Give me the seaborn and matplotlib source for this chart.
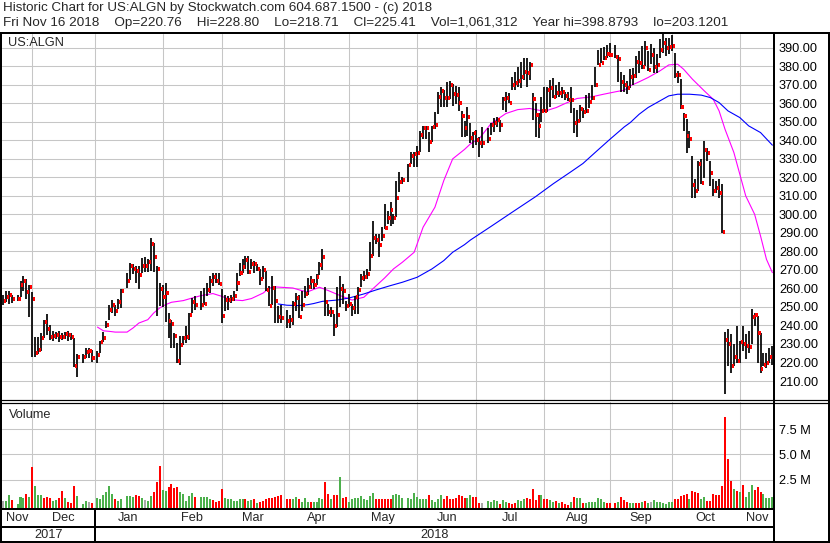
import numpy as np
import pandas as pd
import matplotlib
matplotlib.use("Agg")
from matplotlib import pyplot as plt
import seaborn as sns

# ---- data --------------------------------------------------------------
first_day, last_day = "2017-11-17", "2018-11-16"
holidays = ["2017-11-23", "2017-12-25", "2018-01-01", "2018-01-15", "2018-02-19",
            "2018-03-30", "2018-05-28", "2018-07-04", "2018-09-03"]

closes = [
    253.4, 255.2, 256.2, 254.1, 254.4, 262.0, 263.8, 257.9, 260.6,  # Nov
    254.3, 225.3, 226.8, 233.1, 241.8, 238.2, 234.0, 234.2, 235.0, 233.5,
    233.5, 235.3, 235.0, 233.5, 218.3, 222.7, 223.2, 225.9, 226.0, 222.2,  # Dec
    224.1, 230.8, 233.1, 240.4, 248.5, 251.2, 247.9, 252.5, 258.4, 263.8, 272.0,
    270.5, 269.2, 267.1, 272.0, 272.0, 274.0, 283.7, 276.8, 270.2, 259.7,  # Jan
    255.2, 257.5, 242.2, 241.0, 234.1, 220.6, 229.2, 233.0, 233.6, 245.8,
    252.7, 251.2, 251.2, 251.5, 259.3, 263.9, 266.2, 263.9, 262.4,  # Feb
    245.3, 253.6, 253.9, 254.5, 255.7, 263.0, 268.4, 271.4, 275.2, 268.7, 272.9,
    272.9, 270.2, 264.8, 269.8, 259.3, 250.7, 260.2, 253.0, 244.6, 244.0,  # Mar
    242.2, 242.8, 251.8, 254.8, 244.6, 251.2, 257.0, 260.5, 263.8, 262.0, 266.0,
    272.8, 277.1, 252.5, 247.4, 247.4, 239.9, 245.8, 259.7, 258.4, 250.3,  # Apr
    251.6, 249.4, 255.5, 259.0, 265.4, 266.0, 267.8, 277.7, 287.0, 286.3, 283.6,
    288.0, 292.8, 298.0, 302.3, 298.0, 308.6, 317.3, 318.5, 326.4, 331.7, 332.6,  # May
    333.0, 343.0, 346.4, 346.4, 339.2, 347.0, 348.4, 363.5, 366.4, 362.5, 362.8,
    370.0, 365.0, 364.6, 360.0, 353.0, 346.4, 352.4, 341.4, 343.6, 340.3,  # Jun
    338.2, 338.2, 340.7, 348.0, 349.0, 351.0, 348.0, 362.0, 362.5, 360.3, 369.7,
    370.9, 371.8, 374.2, 376.7, 376.0, 380.8, 362.0, 353.5, 347.5, 355.8,  # Jul
    355.6, 367.3, 368.2, 363.4, 365.5, 365.2, 366.0, 363.7, 361.6, 361.6, 349.5, 350.2,
    357.0, 355.3, 355.8, 360.7, 362.8, 369.7, 380.8, 381.7, 384.6, 386.4, 385.9,  # Aug
    385.0, 384.0, 371.5, 370.0, 368.0, 374.3, 374.7, 382.3, 381.5, 379.6,
    389.6, 377.9, 385.9, 379.4, 380.5, 388.6, 392.7, 389.5, 390.4,  # Sep
    390.9, 375.2, 375.1, 357.8, 353.1, 342.3, 340.5, 315.7, 312.6, 327.0, 317.1, 334.6,
    332.8, 322.5, 312.6, 314.0, 311.3, 290.6, 232.1, 229.8, 218.1, 223.0, 220.8,  # Oct
    231.1, 229.8, 228.9, 228.5, 244.7, 245.5, 235.7, 216.7, 218.6, 219.5, 223.1, 225.41,  # Nov
]

highs = [
    256.2, 258.4, 258.8, 256.2, 256.2, 264.2, 266.5, 265.3, 261.7,
    258.0, 234.0, 233.5, 236.0, 243.0, 246.0, 240.0, 237.0, 236.5, 237.0,
    236.0, 236.5, 237.0, 236.0, 233.1, 224.5, 224.5, 227.7, 228.0, 226.5,
    226.3, 231.5, 236.7, 242.5, 251.2, 253.9, 251.2, 254.5, 259.5, 268.3, 273.8,
    273.0, 272.0, 272.0, 276.5, 277.0, 276.0, 287.3, 284.5, 272.3, 263.0,
    262.0, 263.0, 246.7, 243.1, 235.9, 230.5, 234.1, 234.1, 239.5, 246.7,
    254.8, 255.7, 258.4, 260.2, 263.0, 266.6, 268.4, 268.4, 268.4,
    259.7, 256.6, 255.7, 256.6, 258.4, 268.4, 273.8, 275.6, 277.7, 277.4, 275.6,
    274.7, 272.9, 270.2, 272.0, 269.3, 261.2, 266.6, 261.2, 250.3, 251.2,
    248.5, 245.8, 253.0, 257.5, 256.6, 258.4, 261.2, 265.7, 266.6, 265.0, 268.0,
    274.0, 281.0, 260.6, 251.6, 249.8, 246.2, 260.6, 266.9, 262.4, 253.4,
    257.0, 251.6, 256.0, 260.6, 267.8, 269.6, 270.5, 284.9, 296.6, 289.4, 289.4,
    293.0, 305.6, 302.0, 306.5, 300.2, 318.0, 322.7, 320.0, 327.2, 333.5, 333.5,
    337.1, 345.2, 347.9, 347.9, 344.3, 347.9, 355.1, 365.9, 368.6, 367.0, 371.3,
    372.2, 370.4, 369.5, 368.6, 356.0, 350.6, 357.8, 349.0, 344.5, 345.4,
    341.8, 347.2, 346.3, 349.0, 351.7, 352.6, 350.8, 363.4, 366.0, 365.2, 374.2,
    376.9, 379.6, 382.3, 384.1, 384.1, 382.3, 365.2, 359.8, 354.4, 363.4,
    368.8, 368.8, 372.4, 373.3, 369.7, 371.5, 368.8, 366.0, 366.0, 368.8, 357.1, 356.2,
    358.9, 357.1, 364.3, 365.2, 369.7, 379.6, 388.6, 389.5, 390.4, 391.3, 392.2,
    391.3, 385.9, 376.9, 375.1, 372.0, 378.3, 379.0, 385.5, 388.2, 390.9,
    393.6, 388.2, 391.8, 390.0, 386.4, 394.5, 398.88, 395.4, 395.4,
    397.0, 387.3, 377.4, 372.9, 354.9, 351.3, 345.0, 331.5, 318.9, 328.8, 329.7, 339.6,
    336.0, 328.8, 318.9, 318.0, 318.9, 316.2, 236.5, 237.9, 235.2, 229.8, 239.7,
    231.6, 239.7, 235.2, 237.0, 248.7, 246.9, 245.1, 236.1, 225.3, 225.3, 228.0, 228.80,
]

lows = [
    251.2, 252.6, 251.6, 251.9, 253.4, 255.2, 258.8, 254.4, 244.3,
    223.0, 223.0, 224.5, 226.0, 233.0, 235.0, 232.2, 231.5, 232.8, 231.0,
    232.0, 232.5, 231.8, 232.0, 217.3, 212.4, 219.6, 222.3, 222.5, 220.5,
    219.6, 225.0, 231.3, 238.6, 243.1, 246.7, 244.9, 249.0, 249.5, 260.2, 264.7,
    267.5, 262.9, 259.6, 268.3, 269.0, 269.0, 269.2, 268.8, 245.0, 250.3,
    250.0, 242.0, 233.2, 227.8, 227.8, 219.7, 218.8, 229.6, 230.5, 232.3,
    246.7, 248.5, 248.5, 251.2, 255.7, 257.5, 261.2, 263.0, 262.0,
    241.3, 247.6, 248.5, 252.1, 253.0, 258.4, 266.6, 268.4, 270.2, 268.0, 270.2,
    268.4, 269.3, 262.0, 264.8, 258.4, 250.3, 251.2, 241.3, 241.3, 241.3,
    238.6, 238.6, 240.0, 247.6, 244.0, 247.6, 254.8, 256.6, 259.4, 259.5, 262.0,
    267.0, 270.0, 245.3, 245.3, 244.4, 234.5, 239.0, 249.8, 251.6, 248.0,
    249.8, 245.3, 246.2, 246.2, 260.6, 264.2, 265.0, 269.6, 277.7, 284.0, 277.1,
    285.8, 292.0, 294.8, 293.9, 294.8, 298.4, 311.9, 316.4, 317.3, 327.2, 325.4,
    325.4, 333.5, 340.7, 340.7, 333.5, 338.9, 346.1, 354.2, 357.8, 357.8, 357.8,
    362.3, 358.7, 359.6, 356.0, 341.6, 341.6, 342.5, 338.2, 335.5, 337.3,
    331.0, 335.5, 338.2, 342.7, 344.5, 347.2, 344.5, 356.2, 355.3, 359.8, 367.0,
    367.0, 368.8, 367.9, 372.4, 368.8, 372.4, 350.8, 341.8, 340.9, 349.9,
    355.0, 355.3, 358.0, 363.0, 362.5, 363.4, 362.5, 361.6, 361.0, 354.4, 343.6, 341.8,
    349.9, 351.7, 354.4, 357.1, 361.6, 368.8, 380.5, 381.4, 383.2, 384.1, 385.0,
    384.1, 371.5, 366.0, 366.0, 364.8, 368.4, 370.0, 373.8, 376.5, 378.3,
    380.1, 377.4, 381.0, 376.5, 376.5, 384.6, 387.3, 385.5, 386.4,
    388.0, 373.8, 371.1, 356.7, 345.0, 333.3, 336.0, 309.0, 309.0, 312.6, 316.2, 319.8,
    328.8, 315.3, 309.9, 311.7, 309.0, 290.1, 203.12, 218.1, 214.5, 218.1, 219.9,
    219.9, 226.2, 221.7, 225.3, 229.8, 239.7, 219.9, 214.5, 218.1, 217.2, 219.9, 218.71,
]

# volume in millions, and its colour flag (1 up, -1 down, 0 unchanged)
volumes = [
    0.44, 0.44, 1.03, 0.54, 0.10, 0.80, 0.76, 1.13, 0.86,
    3.81, 1.91, 1.03, 1.03, 0.76, 0.80, 0.70, 0.47, 0.55, 0.76,
    1.42, 0.70, 0.38, 0.28, 1.91, 0.93, 0.15, 0.44, 0.34, 0.28,
    0.70, 0.67, 1.03, 1.36, 1.91, 1.09, 0.67, 0.47, 0.60, 0.93, 0.93,
    0.86, 1.03, 0.93, 0.76, 0.54, 0.44, 0.93, 1.36, 2.34, 3.87,
    1.49, 1.45, 1.78, 2.11, 1.68, 1.78, 1.36, 1.09, 0.47, 0.93,
    1.26, 0.86, 0.86, 0.80, 0.80, 0.60, 0.54, 0.38, 0.47,
    1.62, 0.76, 0.60, 0.60, 0.47, 0.41, 0.60, 0.60, 0.67, 0.41, 0.54,
    0.67, 0.28, 0.38, 0.44, 0.60, 0.76, 0.76, 0.86, 0.93, 1.03,
    0.67, 0.60, 0.60, 0.80, 0.60, 0.38, 0.76, 0.38, 0.34, 0.34, 0.31,
    0.70, 0.60, 2.34, 1.13, 0.60, 1.03, 1.03, 2.80, 0.76, 0.86,
    0.38, 0.60, 0.70, 0.76, 0.93, 0.60, 0.54, 0.93, 1.19, 0.60, 0.60,
    0.60, 0.60, 0.60, 0.60, 1.03, 1.09, 1.03, 0.70, 0.70, 0.67, 1.19,
    0.86, 0.63, 0.60, 0.63, 1.03, 0.54, 0.38, 0.63, 1.03, 0.63, 0.96,
    0.63, 0.60, 0.76, 1.03, 0.93, 0.76, 0.76, 1.03, 0.80, 0.80,
    0.21, 0.21, 0.47, 0.38, 0.54, 0.44, 0.12, 0.54, 0.38, 0.21, 0.15,
    0.28, 0.54, 0.47, 0.63, 0.76, 0.60, 1.62, 0.54, 1.03, 1.03,
    0.63, 0.60, 0.54, 0.38, 0.44, 0.21, 0.31, 0.15, 0.05, 0.31, 0.80, 0.70,
    0.70, 0.28, 0.28, 0.31, 0.31, 0.31, 0.70, 0.60, 0.31, 0.21, 0.21,
    0.21, 0.38, 0.86, 0.54, 0.38, 0.21, 0.28, 0.21, 0.21, 0.38,
    0.47, 0.21, 0.31, 0.54, 0.31, 0.31, 0.21, 0.15, 0.31,
    0.31, 0.60, 0.60, 0.93, 1.03, 1.09, 0.60, 1.45, 1.36, 1.19, 0.60, 0.86,
    0.47, 0.47, 1.09, 1.03, 1.03, 1.91, 8.70, 4.56, 2.40, 1.59, 1.45,
    1.29, 2.01, 0.80, 1.36, 2.01, 1.52, 1.78, 1.36, 1.09, 0.76, 0.76, 0.80,
]
vol_dir = [
    0, 1, 1, -1, 1, 1, 1, -1, 1,
    -1, 1, 1, 1, -1, -1, -1, 1, 1, -1, -1, 1, -1, -1, -1, 1, 1, 1, 0, -1,
    1, 1, 1, 1, 1, 1, -1, 1, 1, 1, 1, 1, -1, -1, 1, 0, 1, 1, -1, -1, -1,
    1, 1, -1, -1, -1, -1, 1, 1, 1, 1, 1, -1, 1, 1, 1, 1, -1, -1, -1,
    -1, 1, 1, 1, 1, 1, 1, 1, -1, 1, 1, -1, 1, -1, -1, -1, -1, -1, -1, -1, -1,
    -1, -1, 1, 1, -1, 1, 1, 1, -1, 1, 1, 1, 1, -1, -1, 1, -1, -1, 1, -1, -1,
    1, 1, 1, 1, 1, 1, 1, 1, 1, -1, -1, -1, -1, -1, -1, 1, 1, 1, 1, 1, 1, 1,
    1, 1, 1, 1, -1, 1, 1, 1, 1, -1, -1, -1, -1, -1, -1, -1, -1, 1, 1, -1, -1,
    -1, 0, 1, 1, 1, 1, -1, 1, 1, -1, -1, -1, 1, 1, 1, -1, -1, -1, -1, -1, 1,
    -1, -1, 1, 1, -1, 1, -1, -1, -1, 1, -1, 1, 1, -1, 1, 1, 1, 1, 1, 1, 1, -1, -1,
    -1, 1, -1, -1, -1, 1, 1, -1, -1, 1, -1, 1, 0, 1, 1, 1, 1, 1, 1,
    1, -1, -1, -1, -1, -1, 1, -1, -1, -1, 1, 1, -1, -1, -1, -1, -1, -1, -1, -1, -1, 1, -1,
    1, -1, 1, 1, 1, -1, -1, -1, 1, 1, 1, 1,
]

# moving averages, read at sample dates
fast_ma_dates = ["2018-01-02", "2018-01-04", "2018-01-08", "2018-01-10", "2018-01-16", "2018-01-18",
                 "2018-01-22", "2018-01-25", "2018-01-29", "2018-01-31", "2018-02-02", "2018-02-06",
                 "2018-02-12", "2018-02-15", "2018-02-20", "2018-02-26", "2018-03-01", "2018-03-06",
                 "2018-03-12", "2018-03-15", "2018-03-21", "2018-03-23", "2018-03-27", "2018-04-04",
                 "2018-04-09", "2018-04-11", "2018-04-13", "2018-04-17", "2018-04-20", "2018-04-26",
                 "2018-05-02", "2018-05-08", "2018-05-11", "2018-05-17", "2018-05-22", "2018-05-25",
                 "2018-05-31", "2018-06-05", "2018-06-11", "2018-06-14", "2018-06-19", "2018-06-25",
                 "2018-06-27", "2018-07-02", "2018-07-06", "2018-07-13", "2018-07-19", "2018-07-25",
                 "2018-07-27", "2018-08-01", "2018-08-07", "2018-08-10", "2018-08-16", "2018-08-23",
                 "2018-08-29", "2018-09-04", "2018-09-07", "2018-09-11", "2018-09-14", "2018-09-19",
                 "2018-09-25", "2018-09-28", "2018-10-03", "2018-10-05", "2018-10-10", "2018-10-16",
                 "2018-10-19", "2018-10-23", "2018-10-25", "2018-10-30", "2018-11-01", "2018-11-05",
                 "2018-11-08", "2018-11-12", "2018-11-14", "2018-11-16"]
fast_ma = [239.1, 237.1, 236.8, 236.4, 236.4, 238.6, 241.3, 243.1, 246.7, 249.4, 251.2, 252.5,
           253.4, 254.8, 256.1, 257.2, 255.7, 253.9, 253.4, 254.5, 257.5, 260.2, 260.8, 260.2,
           258.8, 258.1, 259.4, 260.6, 258.8, 256.1, 253.7, 255.2, 259.7, 265.6, 270.5, 274.1,
           279.5, 293.0, 303.8, 318.2, 329.9, 335.0, 338.0, 340.9, 349.0, 354.4, 356.5, 357.1,
           356.5, 355.6, 357.6, 359.8, 362.5, 363.4, 364.8, 366.1, 367.0, 369.3, 371.5, 373.8,
           377.4, 380.6, 381.0, 378.3, 372.9, 366.6, 362.1, 355.8, 345.9, 333.3, 321.6, 309.9,
           300.0, 288.3, 275.7, 268.5]

slow_ma_dates = ["2018-03-28", "2018-04-02", "2018-04-06", "2018-04-11", "2018-04-13", "2018-04-18",
                 "2018-04-25", "2018-05-01", "2018-05-08", "2018-05-14", "2018-05-21", "2018-05-25",
                 "2018-06-01", "2018-06-08", "2018-06-14", "2018-06-19", "2018-06-25", "2018-06-27",
                 "2018-07-06", "2018-07-17", "2018-07-27", "2018-08-06", "2018-08-14", "2018-08-20",
                 "2018-08-27", "2018-08-31", "2018-09-07", "2018-09-11", "2018-09-14", "2018-09-19",
                 "2018-09-25", "2018-09-28", "2018-10-03", "2018-10-09", "2018-10-15", "2018-10-18",
                 "2018-10-23", "2018-10-26", "2018-11-01", "2018-11-06", "2018-11-12", "2018-11-16"]
slow_ma = [251.6, 250.9, 250.7, 251.2, 251.8, 253.0, 253.7, 254.8, 257.0, 259.1, 261.5, 263.3,
           266.0, 270.5, 275.0, 279.5, 283.6, 286.1, 293.5, 301.0, 309.5, 316.5, 323.0, 327.4,
           334.6, 340.3, 347.2, 349.5, 354.0, 357.6, 361.2, 363.9, 364.8, 364.8, 364.3, 363.0,
           360.3, 355.8, 352.2, 347.7, 344.1, 337.3]

price_ticks = list(range(210, 400, 10))
volume_ticks = [2.5, 5.0, 7.5]
header_1 = "Historic Chart for US:ALGN by Stockwatch.com 604.687.1500 - (c) 2018"
header_2 = "    ".join(["Fri Nov 16 2018", "Op=220.76", "Hi=228.80", "Lo=218.71", "Cl=225.41",
                        "Vol=1,061,312", "Year hi=398.8793", "lo=203.1201"])

assert len(closes) == len(highs) == len(lows) == len(volumes) == len(vol_dir) == 252

# ---- layout -------------------------------------------------------------
W, H = 830, 543
sns.set_theme(style="white")
plt.rcParams["font.family"] = ["Liberation Sans", "DejaVu Sans"]
fig = plt.figure(figsize=(W / 100, H / 100), dpi=100)
fig.patch.set_facecolor("white")


def box(x0, y0, x1, y1):
    ax = fig.add_axes([x0 / W, 1 - y1 / H, (x1 - x0) / W, (y1 - y0) / H])
    for s in ax.spines.values():
        s.set_visible(False)
    return ax


def rule(x0, y0, x1, y1, width=2.0):
    fig.add_artist(plt.Line2D([x0 / W, x1 / W], [1 - y0 / H, 1 - y1 / H],
                              color="black", lw=width * 0.72, solid_capstyle="butt"))


weekdays = pd.bdate_range(first_day, last_day)
trade_days = weekdays[~weekdays.isin(pd.to_datetime(holidays))]
pos = weekdays.get_indexer(trade_days).astype(float)
month_starts = pd.date_range("2017-12-01", "2018-11-01", freq="MS")
grid_pos = np.searchsorted(weekdays.values, month_starts.values, side="right") - 1
xlim = (-0.25, 260.55)
grid_c = "#c6c6c6"

# ---- price panel --------------------------------------------------------
ax = box(2, 34, 774, 400)
ax.set_xlim(*xlim)
ax.set_ylim(199.75, 397.3)
for g in price_ticks:
    ax.axhline(g, color=grid_c, lw=0.75, zorder=0)
for g in grid_pos:
    ax.axvline(g, color=grid_c, lw=0.75, zorder=0)

ax.vlines(pos, lows, highs, color="black", lw=1.25, zorder=3)
ax.hlines(closes, pos + 0.3, pos + 1.0, color="#ff0000", lw=1.5, zorder=4,
          antialiased=False)

fast_x = weekdays.get_indexer(pd.to_datetime(fast_ma_dates))
slow_x = weekdays.get_indexer(pd.to_datetime(slow_ma_dates))
sns.lineplot(x=fast_x, y=fast_ma, ax=ax, color="#ff00ff", lw=0.8, zorder=2)
sns.lineplot(x=slow_x, y=slow_ma, ax=ax, color="#0000ff", lw=0.8, zorder=2)

ax.yaxis.tick_right()
ax.set_yticks(price_ticks)
ax.set_yticklabels([f"{v:.2f}" for v in price_ticks])
ax.tick_params(axis="y", length=0, pad=3.6, labelsize=9.2, labelcolor="black")
ax.set_xticks([])
ax.set_xlabel("")
ax.set_ylabel("")
ax.text(0.008, 0.975, "US:ALGN", transform=ax.transAxes, fontsize=9.2,
        ha="left", va="center")

# ---- volume panel -------------------------------------------------------
axv = box(2, 402, 774, 508)
axv.set_xlim(*xlim)
axv.set_ylim(-0.25, 10.15)
for g in volume_ticks:
    axv.axhline(g, color=grid_c, lw=0.75, zorder=0)
for g in grid_pos:
    axv.axvline(g, color=grid_c, lw=0.75, zorder=0)
palette = {1: "#4cb04c", -1: "#ff0000", 0: "#a8a8a8"}
vol_colors = [palette[d] for d in vol_dir]
axv.bar(pos, np.array(volumes) + 0.25, bottom=-0.25, width=0.68,
        color=vol_colors, linewidth=0, zorder=2)
axv.yaxis.tick_right()
axv.set_yticks(volume_ticks)
axv.set_yticklabels([f"{v:.1f} M" for v in volume_ticks])
axv.tick_params(axis="y", length=0, pad=3.6, labelsize=9.2, labelcolor="black")
axv.set_xticks([])
axv.text(0.009, 0.88, "Volume", transform=axv.transAxes, fontsize=9.2,
         ha="left", va="center")

# ---- date strip ---------------------------------------------------------
axb = box(2, 508, 774, 542)
axb.set_xlim(*xlim)
axb.set_ylim(34, 0)
axb.axis("off")
edges = [xlim[0]] + list(grid_pos) + [xlim[1]]
labels = ["Nov", "Dec", "Jan", "Feb", "Mar", "Apr", "May", "Jun", "Jul", "Aug", "Sep", "Oct", "Nov"]
for lab, a, b in zip(labels, edges[:-1], edges[1:]):
    axb.text((a + b) / 2, 10, lab, ha="center", va="center", fontsize=9.2)
jan = grid_pos[1]
axb.text((xlim[0] + jan) / 2, 26.5, "2017", ha="center", va="center", fontsize=9.2)
axb.text((jan + xlim[1]) / 2, 26.5, "2018", ha="center", va="center", fontsize=9.2)
jan_px = 2 + (jan - xlim[0]) * 772 / (xlim[1] - xlim[0])

# ---- frame and header ---------------------------------------------------
rule(0, 33, 830, 33)
rule(1, 33, 1, 543)
rule(774, 33, 774, 543)
rule(829, 33, 829, 543)
rule(0, 400, 830, 400, 1.2)
rule(0, 402.5, 830, 402.5, 1.2)
rule(0, 509, 774, 509)
rule(0, 526.5, 774, 526.5)
rule(0, 542, 830, 542)
rule(jan_px, 509, jan_px, 542)

fig.text(3 / W, 1 - 8 / H, header_1, fontsize=9.6, ha="left", va="center")
fig.text(3 / W, 1 - 23 / H, header_2, fontsize=9.7, ha="left", va="center")

fig.savefig("out.png", dpi=100, facecolor="white")
